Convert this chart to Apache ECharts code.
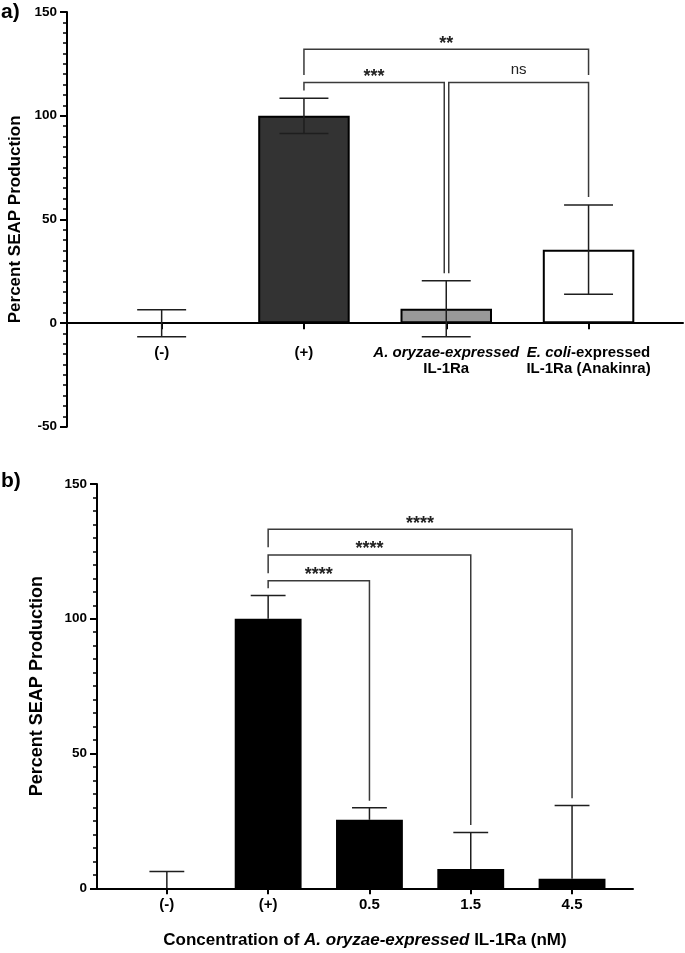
<!DOCTYPE html>
<html><head><meta charset="utf-8">
<script src="https://cdn.jsdelivr.net/npm/echarts@6/dist/echarts.min.js"></script>
<style>html,body{margin:0;padding:0;background:#fff}#c{width:685px;height:953px}</style>
</head><body><div id="c"></div>
<script>
// ---------- Panel a ----------
const catsA = ['(-)', '(+)', 'A. oryzae-expressed IL-1Ra', 'E. coli-expressed IL-1Ra (Anakinra)'];
const meanA = [0, 100, 7, 35.5];
const errA = [6.5, 8.5, 13.5, 21.5];
const yTicksA = [-50, 0, 50, 100, 150];
const yMinorStepA = 5;
// [fromIndex, toIndex, bracketHeight, leftLegEnd, rightLegEnd, label]
const sigA = [
  [1, 3, 132.1, 119.7, 119.7, '**'],
  [1, 2, 116.0, 112.2, 24.1, '***'],
  [2, 3, 116.0, 24.1, 60.8, 'ns']
];
// ---------- Panel b ----------
const catsB = ['(-)', '(+)', '0.5', '1.5', '4.5'];
const meanB = [0, 100, 25.4, 7.2, 3.5];
const errB = [6.2, 8.6, 4.5, 13.5, 27.2];
const yTicksB = [0, 50, 100, 150];
const yMinorStepB = 5;
const sigB = [
  [1, 4, 133.2, 126.5, 33.4, '****'],
  [1, 3, 123.7, 116.9, 23.5, '****'],
  [1, 2, 114.1, 111.3, 32.5, '****']
];
const yNameA = 'Percent SEAP Production';
const yNameB = 'Percent SEAP Production';
const xNameB = 'Concentration of A. oryzae-expressed IL-1Ra (nM)';

// styles (kept separate from data)
const FONT = '"Liberation Sans", Arial, Helvetica, sans-serif';
const fillsA = ['#ffffff', '#333333', '#999999', '#ffffff'];

function italicize(s) {
  return s.replace(/(A\. oryzae-expressed|E\. coli)/, '{i|$1}');
}
function catFormat(s) {
  return italicize(s).replace(' IL-1Ra', '\nIL-1Ra');
}

const chart = echarts.init(document.getElementById('c'), null, {renderer: 'canvas'});

function errorSeries(xi, yi, means, errs, both) {
  return {
    type: 'custom', xAxisIndex: xi, yAxisIndex: yi, z: 5, silent: true, clip: false,
    data: means.map((m, i) => [i, m, errs[i]]),
    renderItem(params, api) {
      const i = api.value(0), m = api.value(1), e = api.value(2);
      const c = api.coord([i, m]);
      const hi = api.coord([i, m + e]);
      const lo = api.coord([i, both ? m - e : m]);
      const hw = api.size([1, 0])[0] * 0.172;
      const st = {stroke: '#1e1e1e', lineWidth: 1.5};
      const ch = [
        {type: 'line', shape: {x1: c[0], y1: lo[1], x2: c[0], y2: hi[1]}, style: st},
        {type: 'line', shape: {x1: c[0] - hw, y1: hi[1], x2: c[0] + hw, y2: hi[1]}, style: st}
      ];
      if (both) ch.push({type: 'line', shape: {x1: c[0] - hw, y1: lo[1], x2: c[0] + hw, y2: lo[1]}, style: st});
      return {type: 'group', children: ch};
    }
  };
}

function sigSeries(xi, yi, sig) {
  const rightEnds = new Set(sig.map(s => s[1]));
  const leftEnds = new Set(sig.map(s => s[0]));
  return {
    type: 'custom', xAxisIndex: xi, yAxisIndex: yi, z: 6, silent: true, clip: false,
    data: sig.map(s => s.slice(0, 5)),
    renderItem(params, api) {
      const s = sig[params.dataIndex];
      let xl = api.coord([s[0], s[2]])[0];
      let xr = api.coord([s[1], s[2]])[0];
      if (rightEnds.has(s[0])) xl += 2.5;
      if (leftEnds.has(s[1])) xr -= 2;
      const yt = api.coord([s[0], s[2]])[1];
      const yl = api.coord([s[0], s[3]])[1];
      const yr = api.coord([s[1], s[4]])[1];
      const isNs = s[5] === 'ns';
      return {type: 'group', children: [
        {type: 'polyline', shape: {points: [[xl, yl], [xl, yt], [xr, yt], [xr, yr]]},
         style: {stroke: '#3a3a3a', lineWidth: 1.5, fill: 'none'}},
        {type: 'text', style: {text: s[5], x: (xl + xr) / 2, y: yt - (isNs ? 13 : 5.5),
          align: 'center', verticalAlign: 'middle', fontFamily: FONT,
          fontSize: isNs ? 15 : 18, fontWeight: isNs ? 'normal' : 'bold', fill: '#222'}}
      ]};
    }
  };
}

function valueYAxis(grid, ticks, show, name, nameGap, nameSize) {
  const ax = {
    type: 'value', gridIndex: grid, position: 'left', min: ticks[0], max: ticks[ticks.length - 1],
    interval: ticks[1] - ticks[0], splitLine: {show: false}
  };
  if (!show) { ax.show = false; return ax; }
  return Object.assign(ax, {
    axisLine: {show: true, onZero: true, lineStyle: {color: '#000', width: 2}},
    axisTick: {show: true, length: 7, lineStyle: {color: '#000', width: 2}},
    axisLabel: {margin: 10, fontSize: 13.5, fontWeight: 'bold', color: '#000', fontFamily: FONT},
    name: name, nameLocation: 'middle', nameGap: nameGap,
    nameTextStyle: {fontSize: nameSize, fontWeight: 'bold', color: '#000', fontFamily: FONT}
  });
}

// minor ticks: a tick-only axis at the same place
function minorYAxis(grid, ticks, step) {
  return {
    type: 'value', gridIndex: grid, position: 'left', min: ticks[0], max: ticks[ticks.length - 1],
    interval: step, splitLine: {show: false},
    axisLine: {show: false}, axisLabel: {show: false},
    axisTick: {show: true, length: 4, lineStyle: {color: '#000', width: 1.5}}
  };
}

function catXAxis(grid, cats, margin) {
  return {
    type: 'category', gridIndex: grid, data: cats,
    axisLine: {show: false, onZero: false},
    axisTick: {show: true, alignWithLabel: true, length: 6, lineStyle: {color: '#000', width: 2}},
    axisLabel: {
      interval: 0, hideOverlap: false, margin: margin, fontSize: 15, fontWeight: 'bold',
      color: '#000', fontFamily: FONT, lineHeight: 16, formatter: catFormat,
      rich: {i: {fontStyle: 'italic', fontWeight: 'bold', fontSize: 15, lineHeight: 16, color: '#000', fontFamily: FONT}}
    },
    splitLine: {show: false}
  };
}

function lineXAxis(grid, name) {
  const ax = {
    type: 'value', gridIndex: grid, min: 0, max: 1,
    axisLine: {show: true, onZero: true, onZeroAxisIndex: grid, lineStyle: {color: '#000', width: 2}},
    axisTick: {show: false}, axisLabel: {show: false}, splitLine: {show: false}
  };
  if (name) {
    Object.assign(ax, {
      name: italicize(name), nameLocation: 'middle', nameGap: 44,
      nameTextStyle: {fontSize: 17, fontWeight: 'bold', color: '#000', fontFamily: FONT,
        rich: {i: {fontStyle: 'italic', fontWeight: 'bold', fontSize: 17, color: '#000', fontFamily: FONT}}}
    });
  }
  return ax;
}

const gridBase = {containLabel: false, outerBoundsMode: 'none'};
chart.setOption({
  animation: false,
  backgroundColor: '#fff',
  textStyle: {fontFamily: FONT},
  title: [
    {text: 'a)', left: 1, top: 2, padding: 0, textStyle: {fontSize: 21, fontWeight: 'bold', color: '#000', fontFamily: FONT}},
    {text: 'b)', left: 1, top: 471, padding: 0, textStyle: {fontSize: 21, fontWeight: 'bold', color: '#000', fontFamily: FONT}}
  ],
  grid: [
    // bars of panel a: spans the non-negative part of the axis, so the category labels sit under zero
    Object.assign({left: 90.5, width: 569.2, top: 12, height: 311.3}, gridBase),
    Object.assign({left: 67, right: 2, top: 12, height: 414.7}, gridBase),
    Object.assign({left: 116.2, width: 506.5, top: 484, height: 404.3}, gridBase),
    Object.assign({left: 97, width: 536, top: 484, height: 404.3}, gridBase)
  ],
  xAxis: [
    catXAxis(0, catsA, 22),
    lineXAxis(1, null),
    catXAxis(2, catsB, 9),
    lineXAxis(3, xNameB)
  ],
  yAxis: [
    valueYAxis(0, yTicksA.filter(t => t >= 0), false),
    valueYAxis(1, yTicksA, true, yNameA, 38, 17),
    valueYAxis(2, yTicksB, false),
    valueYAxis(3, yTicksB, true, yNameB, 51, 18),
    minorYAxis(1, yTicksA, yMinorStepA),
    minorYAxis(3, yTicksB, yMinorStepB)
  ],
  series: [
    {type: 'bar', xAxisIndex: 0, yAxisIndex: 0, barWidth: '64.3%', silent: true,
     data: meanA.map((v, i) => ({value: v, itemStyle: {color: fillsA[i], borderWidth: v === 0 ? 0 : 2}})),
     itemStyle: {borderColor: '#000', borderWidth: 2}, z: 2},
    errorSeries(0, 0, meanA, errA, true),
    sigSeries(0, 0, sigA),
    {type: 'bar', xAxisIndex: 2, yAxisIndex: 2, barWidth: '66%', silent: true,
     data: meanB, itemStyle: {color: '#000'}, z: 2},
    errorSeries(2, 2, meanB, errB, false),
    sigSeries(2, 2, sigB)
  ]
});
</script>
</body></html>
